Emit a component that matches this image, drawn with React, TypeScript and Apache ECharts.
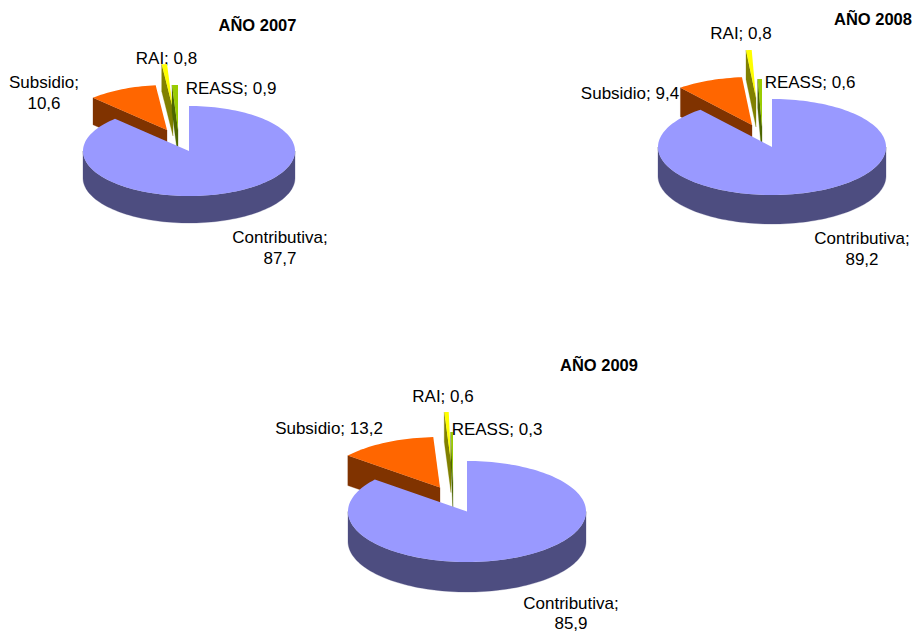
import React, { useEffect, useRef } from "react";
import * as echarts from "echarts";

const categories = ["Contributiva", "Subsidio", "RAI", "REASS"];
const titles = ["AÑO 2007", "AÑO 2008", "AÑO 2009"];
const values2007 = [87.7, 10.6, 0.8, 0.9];
const values2008 = [89.2, 9.4, 0.8, 0.6];
const values2009 = [85.9, 13.2, 0.6, 0.3];
const seriesValues = [values2007, values2008, values2009];

const topColors = ["#9999FF", "#FF6600", "#FFFF00", "#99CC00"];
const sideColors = ["#4D4D80", "#803300", "#808000", "#4D6600"];
const drawOrder = [8, 6, 2, 4];
const FONT = "'Liberation Sans', Arial, sans-serif";
const FONT_SIZE = 17;
const LINE = 21.5;

// Per-pie style: ellipse, depth, slice explosion, label placement.
const pies: any[] = [
  {
    cx: 189, cy: 151, rx: 106, ry: 45, depth: 27,
    explode: [[0, 0], [-22, -21], [-16, -42], [-11, -21]],
    labels: [
      { x: 280, y: 237, wrap: true },
      { x: 44, y: 82, wrap: true },
      { x: 166.5, y: 58, wrap: false },
      { x: 231, y: 88, wrap: false },
    ],
    title: { x: 257.5, y: 25 },
  },
  {
    cx: 772, cy: 147, rx: 114, ry: 48, depth: 29,
    explode: [[0, 0], [-20, -22], [-16, -49], [-10, -20]],
    labels: [
      { x: 862, y: 238, wrap: true },
      { x: 630, y: 93, wrap: false },
      { x: 741, y: 33, wrap: false },
      { x: 810, y: 82, wrap: false },
    ],
    title: { x: 873, y: 19 },
  },
  {
    cx: 467, cy: 511.5, rx: 119, ry: 50.5, depth: 30,
    explode: [[0, 0], [-27, -24], [-16, -49], [-14, -29]],
    labels: [
      { x: 571, y: 603.5, wrap: true, line: 20 },
      { x: 329, y: 428, wrap: false },
      { x: 443, y: 396, wrap: false },
      { x: 497, y: 429, wrap: false },
    ],
    title: { x: 599, y: 365 },
  },
];

const fmt = (v: number) => v.toFixed(1).replace(".", ",");

function sector(ax: number, ay: number, p: any, from: number, to: number) {
  const pts: number[][] = [];
  const n = Math.max(2, Math.ceil((to - from) / 2));
  for (let i = 0; i <= n; i++) {
    const t = ((from + ((to - from) * i) / n) * Math.PI) / 180;
    pts.push([ax + p.rx * Math.sin(t), ay - p.ry * Math.cos(t)]);
  }
  return pts;
}

function makeRenderItem(pieIndex: number) {
  return (params: any, api: any) => {
    const i: number = params.dataIndex;
    const p = pies[pieIndex];
    const vals = seriesValues[pieIndex];
    const total = vals.reduce((a, b) => a + b, 0);
    const before = vals.slice(0, i).reduce((a, b) => a + b, 0);
    const value = api.value(0) as number;
    const start = (before / total) * 360;
    const end = ((before + value) / total) * 360;
    const ax = p.cx + p.explode[i][0];
    const ay = p.cy + p.explode[i][1];
    const z = drawOrder[i];
    const children: any[] = [];

    // cut face on the slice's starting edge
    if (start > 180 && start < 360) {
      const c = sector(ax, ay, p, start, start)[0];
      children.push({
        type: "polygon",
        z2: z,
        silent: true,
        shape: { points: [[ax, ay], c, [c[0], c[1] + p.depth], [ax, ay + p.depth]] },
        style: { fill: sideColors[i], stroke: sideColors[i], lineWidth: 0.3 },
      });
    }
    // curved front wall
    const wf = Math.max(start, 90);
    const wt = Math.min(end, 270);
    if (wt > wf) {
      const arc = sector(ax, ay, p, wf, wt);
      const low = arc.map(([x, y]) => [x, y + p.depth]).reverse();
      children.push({
        type: "polygon",
        z2: z,
        silent: true,
        shape: { points: [...arc, ...low] },
        style: { fill: sideColors[i], stroke: sideColors[i], lineWidth: 0.3 },
      });
    }
    // top surface
    children.push({
      type: "polygon",
      z2: z + 1,
      silent: true,
      shape: { points: [[ax, ay], ...sector(ax, ay, p, start, end)] },
      style: { fill: topColors[i] },
    });
    // label
    const lab = p.labels[i];
    const name = categories[i];
    const text = lab.wrap ? `${name};\n${fmt(value)}` : `${name}; ${fmt(value)}`;
    const line = lab.line || LINE;
    children.push({
      type: "text",
      z2: 0,
      silent: true,
      style: {
        text,
        x: lab.x,
        y: lab.wrap ? lab.y + line / 2 : lab.y,
        align: "center",
        verticalAlign: "middle",
        fill: "#000000",
        fontFamily: FONT,
        fontSize: FONT_SIZE,
        lineHeight: line,
      },
    });
    return { type: "group", children };
  };
}

export default function App() {
  const ref = useRef<HTMLDivElement>(null);
  useEffect(() => {
    const chart = echarts.init(ref.current!, undefined, { renderer: "svg" });
    chart.setOption({
      animation: false,
      backgroundColor: "#FFFFFF",
      title: titles.map((t, k) => ({
        text: t,
        left: pies[k].title.x,
        top: pies[k].title.y,
        textAlign: "center",
        textVerticalAlign: "middle",
        padding: 0,
        textStyle: { fontFamily: FONT, fontSize: 16.5, fontWeight: "bold", color: "#000000" },
      })),
      series: seriesValues.map((vals, k) => ({
        type: "custom",
        coordinateSystem: "none",
        name: titles[k],
        clip: false,
        silent: true,
        data: vals.map((v) => [v]),
        renderItem: makeRenderItem(k),
      })),
    });
    return () => chart.dispose();
  }, []);
  return <div ref={ref} style={{ position: "fixed", left: 0, top: 0, width: 914, height: 633 }} />;
}
